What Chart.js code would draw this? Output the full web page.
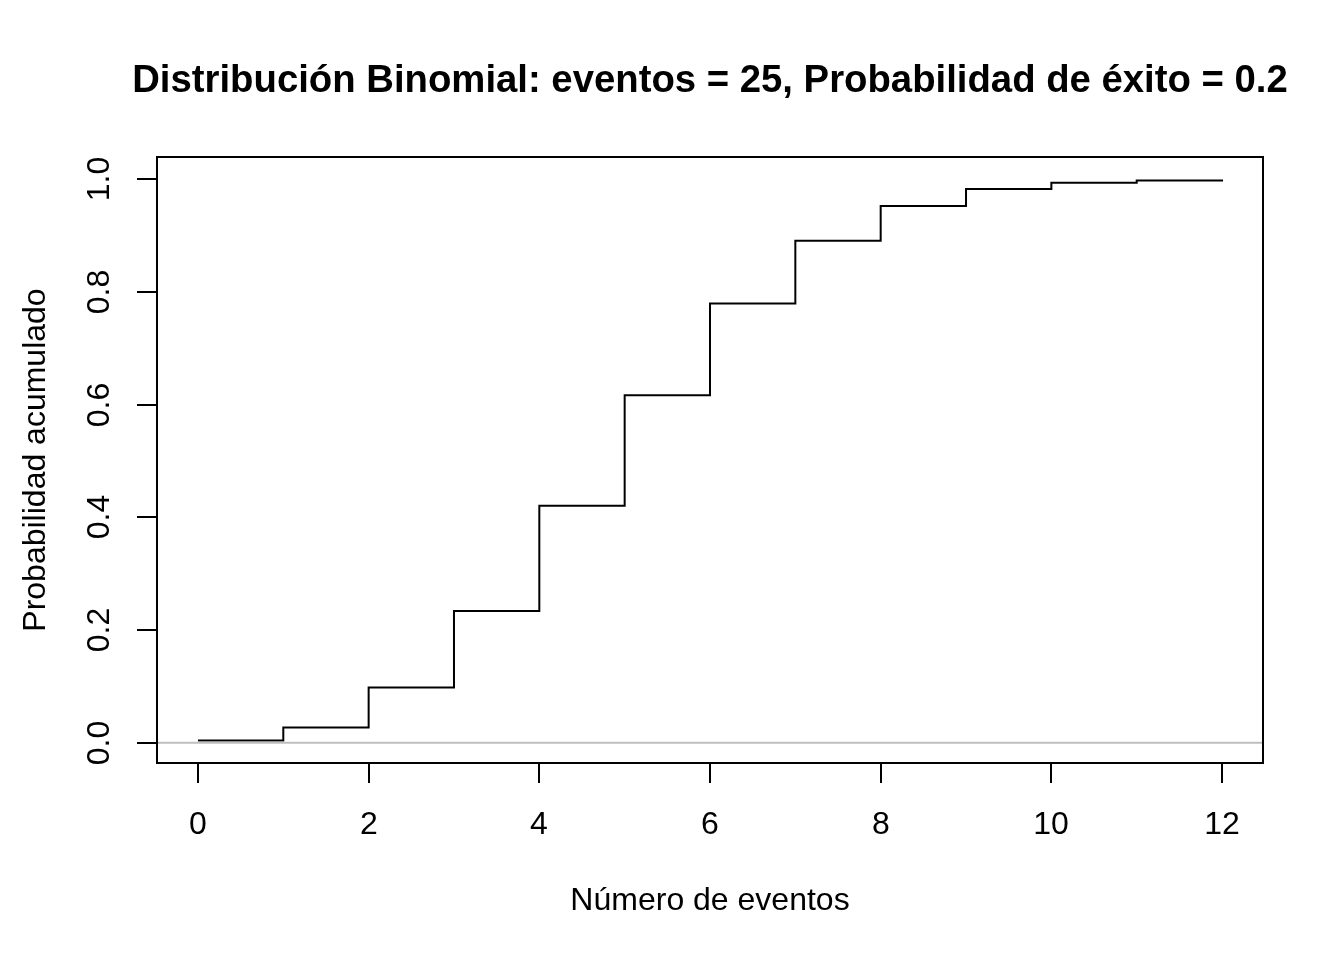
<!DOCTYPE html>
<html>
<head>
<meta charset="utf-8">
<script src="https://cdn.jsdelivr.net/npm/chart.js@4"></script>
<style>
  html, body { margin: 0; padding: 0; background: #fff; }
  #wrap { width: 1344px; height: 960px; }
</style>
</head>
<body>
<div id="wrap"><canvas id="chart" width="1344" height="960"></canvas></div>
<script>
// valores
const eventos = [0, 1, 2, 3, 4, 5, 6, 7, 8, 9, 10, 11, 12];
const probAcum = [0.004, 0.027, 0.098, 0.234, 0.421, 0.617, 0.780, 0.891, 0.953, 0.983, 0.994, 0.998, 1.000];
const xTicks = [0, 2, 4, 6, 8, 10, 12];
const yTicks = [0.0, 0.2, 0.4, 0.6, 0.8, 1.0];
const yTickLabels = ["0.0", "0.2", "0.4", "0.6", "0.8", "1.0"];

const titulo = "Distribución Binomial: eventos = 25, Probabilidad de éxito = 0.2";
const xTitulo = "Número de eventos";
const yTitulo = "Probabilidad acumulado";

// rango estilo R (4% extra)
const xSpan = eventos[eventos.length - 1] - eventos[0];
const xMin = eventos[0] - 0.04 * xSpan;
const xMax = eventos[eventos.length - 1] + 0.04 * xSpan;
const ySpan = Math.max(...probAcum) - Math.min(...probAcum);
const yMin = Math.min(...probAcum) - 0.04 * ySpan;
const yMax = Math.max(...probAcum) + 0.04 * ySpan;

const FONT = '"Liberation Sans", Arial, Helvetica, sans-serif';

const rAxes = {
    id: "rAxes",
    afterDraw(chart) {
        const ctx = chart.ctx;
        const a = chart.chartArea;
        const xs = chart.scales.x;
        const ys = chart.scales.y;
        ctx.save();
        ctx.strokeStyle = "#000";
        ctx.lineWidth = 2;
        ctx.strokeRect(a.left, a.top, a.right - a.left, a.bottom - a.top);

        ctx.fillStyle = "#000";
        ctx.font = "32px " + FONT;
        ctx.textAlign = "center";
        ctx.textBaseline = "middle";
        xTicks.forEach(function (v) {
            const px = Math.round(xs.getPixelForValue(v));
            ctx.beginPath();
            ctx.moveTo(px, a.bottom);
            ctx.lineTo(px, a.bottom + 20);
            ctx.stroke();
            ctx.fillText(String(v), px, 825);
        });
        yTicks.forEach(function (v, i) {
            const py = Math.round(ys.getPixelForValue(v));
            ctx.beginPath();
            ctx.moveTo(a.left, py);
            ctx.lineTo(a.left - 20, py);
            ctx.stroke();
            ctx.save();
            ctx.translate(100, py);
            ctx.rotate(-Math.PI / 2);
            ctx.fillText(yTickLabels[i], 0, 0);
            ctx.restore();
        });

        ctx.font = "bold 38.3px " + FONT;
        ctx.fillText(titulo, (a.left + a.right) / 2, 81);

        ctx.font = "32px " + FONT;
        ctx.fillText(xTitulo, (a.left + a.right) / 2, 901);
        ctx.save();
        ctx.translate(36, (a.top + a.bottom) / 2);
        ctx.rotate(-Math.PI / 2);
        ctx.fillText(yTitulo, 0, 0);
        ctx.restore();
        ctx.restore();
    }
};

const ctx = document.getElementById("chart").getContext("2d");
const myChart = new Chart(ctx, {
    type: "line",
    data: {
        datasets: [
            {
                label: "acumulado",
                data: eventos.map(function (k, i) { return { x: k, y: probAcum[i] }; }),
                borderColor: "#000",
                borderWidth: 2,
                pointRadius: 0,
                stepped: "before",
                fill: false,
                order: 1,
            },
            {
                label: "cero",
                data: [{ x: xMin, y: 0 }, { x: xMax, y: 0 }],
                borderColor: "#bebebe",
                borderWidth: 2,
                pointRadius: 0,
                fill: false,
                order: 0,
            },
        ],
    },
    options: {
        responsive: false,
        animation: false,
        devicePixelRatio: 1,
        layout: {
            padding: { left: 157, top: 157, right: 81, bottom: 197 },
        },
        plugins: {
            legend: { display: false },
            tooltip: { enabled: false },
        },
        scales: {
            x: { type: "linear", min: xMin, max: xMax, display: false },
            y: { type: "linear", min: yMin, max: yMax, display: false },
        },
    },
    plugins: [rAxes],
});
</script>
</body>
</html>
